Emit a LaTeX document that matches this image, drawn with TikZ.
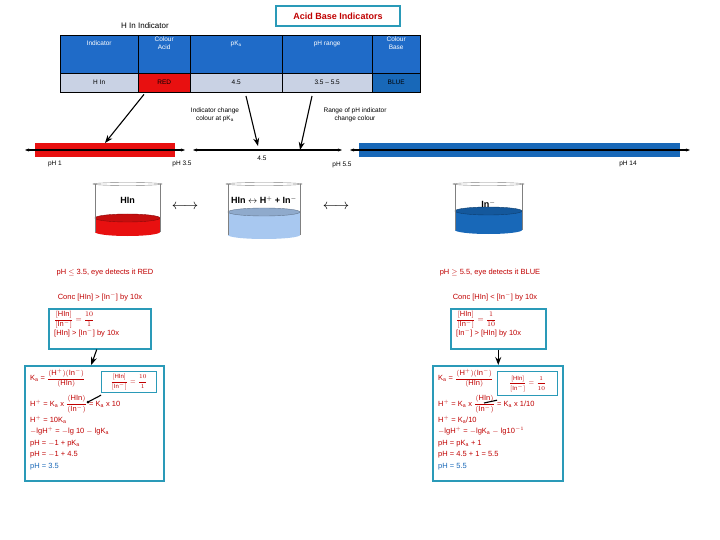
\documentclass[tikz,border=0pt]{standalone}
\usepackage{amsmath}
\usepackage{fontspec}
\setmainfont{Liberation Sans}
\usetikzlibrary{arrows.meta,positioning}
\definecolor{hdrblue}{HTML}{1F6BC8}
\definecolor{rowgrey}{HTML}{C9D2E4}
\definecolor{acidred}{HTML}{E81010}
\definecolor{baseblue}{HTML}{1868B8}
\definecolor{boxteal}{HTML}{2A9AB8}
\definecolor{txtred}{HTML}{C00000}
\definecolor{lightliq}{HTML}{A8C8F0}
\begin{document}
\begin{tikzpicture}[x=1pt,y=-1pt,
  hdr/.style={draw=black,fill=hdrblue,text=white,font=\fontsize{6.5}{7.5}\selectfont,align=center,anchor=north west,inner sep=2pt},
  cell/.style={draw=black,fill=rowgrey,font=\fontsize{6.5}{7.5}\selectfont,anchor=north west,inner sep=0pt},
  label node/.style={font=\fontsize{6.5}{7.5}\selectfont,align=center},
  red text/.style={text=txtred,font=\fontsize{7.5}{9}\selectfont,align=left},
  calc text/.style={text=txtred,font=\fontsize{7.5}{11.5}\selectfont,align=left,anchor=north west,inner sep=0pt},
  calc box/.style={draw=boxteal,line width=1.5pt,fill=white,anchor=north west,inner sep=0pt},
  beaker/.style={draw=gray},
  pointer/.style={-Stealth,line width=1.1pt}]
  \useasboundingbox (0,0) rectangle (720,540);
  % title
  \node[draw=boxteal,line width=1.2pt,fill=white,minimum width=124pt,minimum height=20pt,text=txtred,font=\bfseries\small] (title) at (338,16) {Acid Base Indicators};
  \node[font=\fontsize{8}{9}\selectfont] (hin) at (145,26) {H In Indicator};
  % table
  \foreach \x/\w/\t [count=\i] in {60/78/Indicator,138/52/Colour\\Acid,190/92/pK$_\mathrm{a}$,282/90/pH range,372/48/Colour\\Base}
    \node[hdr,minimum width=\w pt,minimum height=38pt,text depth=22pt] (h\i) at (\x,35) {\t};
  \foreach \x/\w/\t/\c [count=\i] in {60/78/H In/rowgrey,138/52/RED/acidred,190/92/4.5/rowgrey,282/90/3.5 -- 5.5/rowgrey,372/48/BLUE/baseblue}
    \node[cell,fill=\c,minimum width=\w pt,minimum height=19pt] (r\i) at (\x,73) {\t};
  % scale
  \fill[acidred] (35,143) rectangle (175,157);
  \fill[baseblue] (359,143) rectangle (680,157);
  \coordinate (p1) at (25,150); \coordinate (p35) at (185,150);
  \coordinate (q1) at (193,150); \coordinate (q2) at (342,150);
  \coordinate (s1) at (350,150); \coordinate (s2) at (690,150);
  \draw[{Stealth[length=4pt]}-{Stealth[length=4pt]},line width=1.1pt] (p1) -- (p35);
  \draw[{Stealth[length=4pt]}-{Stealth[length=4pt]},line width=1.1pt] (q1) -- (q2);
  \draw[{Stealth[length=4pt]}-{Stealth[length=4pt]},line width=1.1pt] (s1) -- (s2);
  \node[label node] (l1) at (55,164) {pH 1};
  \node[label node] (l35) at (182,164) {pH 3.5};
  \node[label node] (l45) at (262,158) {4.5};
  \node[label node] (l55) at (342,165) {pH 5.5};
  \node[label node] (l14) at (628,164) {pH 14};
  \coordinate (redmid) at (105,143);
  \coordinate (pka) at (258,146);
  \coordinate (rng) at (300,150);
  \node[label node] (chg) at (215,115) {Indicator change\\colour at pK$_\mathrm{a}$};
  \node[label node] (rngtxt) at (355,115) {Range of pH indicator\\change colour};
  \draw[pointer] (r2.south west) ++(6,2) coordinate (a1) -- (redmid);
  \draw[pointer] (246,96) coordinate (a2) -- (pka);
  \draw[pointer] (312,96) coordinate (a3) -- (rng);
  % beakers
  \foreach \xl/\xr/\yb/\top/\liq/\name in {95/160/232/218/acidred/bk1,228/300/235/212/lightliq/bk2,455/522/230/211/baseblue/bk3}{
    \fill[\liq] (\xl,\top) rectangle (\xr,\yb);
    \fill[\liq] ({(\xl+\xr)/2},\yb) ellipse [x radius={(\xr-\xl)/2},y radius=4];
    \fill[\liq!85!black] ({(\xl+\xr)/2},\top) ellipse [x radius={(\xr-\xl)/2},y radius=4];
    \draw[\liq!60!black] ({(\xl+\xr)/2},\top) ellipse [x radius={(\xr-\xl)/2},y radius=4];
    \draw[beaker] (\xl,184) -- (\xl,\yb) (\xr,\yb) -- (\xr,184);
    \draw[gray] ({(\xl+\xr)/2},184) ellipse [x radius={(\xr-\xl)/2+2},y radius=1.5];
    \coordinate (\name) at ({(\xl+\xr)/2},200);
  }
  \node[font=\bfseries\small] (t1) at (bk1) {HIn};
  \node[font=\bfseries\small] (t2) at (bk2) {HIn $\leftrightarrow$ H$^+$ + In$^-$};
  \node[font=\bfseries\small] (t3) at ([yshift=-4pt]bk3) {In$^-$};
  \node[font=\Large] (eq1) at (185,207) {$\longleftrightarrow$};
  \node[font=\Large] (eq2) at (336,207) {$\longleftrightarrow$};
  % acid side
  \node[red text] (acid) at (105,273) {pH $\le$ 3.5, eye detects it RED};
  \node[red text] (aconc) at (100,297) {Conc [HIn] > [In$^-$] by 10x};
  \node[calc box,minimum width=102pt,minimum height=40pt] (abox) at (48,308) {};
  \node[red text,anchor=north west,inner sep=0pt] at (54,311) {$\dfrac{\mathrm{[HIn]}}{\mathrm{[In^-]}}=\dfrac{10}{1}$\\[0pt][HIn] > [In$^-$] by 10x};
  \node[calc box,minimum width=139pt,minimum height=115pt] (acalc) at (24,365) {};
  \draw[-Stealth,line width=1.1pt] (abox.south) ++(-3,0) -- ([xshift=-3pt]acalc.north);
  \node[calc text] (akt) at (30,369) {K$_\mathrm{a}$ = $\dfrac{\mathrm{(H^+)(In^-)}}{\mathrm{(HIn)}}$\\[7pt]
    H$^+$ = K$_\mathrm{a}$ x $\dfrac{\mathrm{(HIn)}}{\mathrm{(In^-)}}$ = K$_\mathrm{a}$ x 10\\[2pt]
    H$^+$ = 10K$_\mathrm{a}$\\ $-$lgH$^+$ = $-$lg 10 $-$ lgK$_\mathrm{a}$\\ pH = $-$1 + pK$_\mathrm{a}$\\ pH = $-$1 + 4.5\\ \textcolor{baseblue}{pH = 3.5}};
  \node[calc box,line width=1.2pt,minimum width=55pt,minimum height=21pt] (ain) at (101,371) {};
  \node[red text,font=\fontsize{6}{7}\selectfont] at (ain.center) {$\dfrac{\mathrm{[HIn]}}{\mathrm{[In^-]}}=\dfrac{10}{1}$};
  \coordinate (adot) at (88,402);
  \draw[line width=1.1pt] ([yshift=-2pt]ain.south west) -- (adot);
  \fill (adot) circle (1.5pt);
  % base side
  \node[red text] (base) at (490,273) {pH $\ge$ 5.5, eye detects it BLUE};
  \node[red text] (bconc) at (495,297) {Conc [HIn] < [In$^-$] by 10x};
  \node[calc box,minimum width=95pt,minimum height=40pt] (bbox) at (450,308) {};
  \node[red text,anchor=north west,inner sep=0pt] at (456,311) {$\dfrac{\mathrm{[HIn]}}{\mathrm{[In^-]}}=\dfrac{1}{10}$\\[0pt][In$^-$] > [HIn] by 10x};
  \node[calc box,minimum width=130pt,minimum height=115pt] (bcalc) at (432,365) {};
  \draw[-Stealth,line width=1.1pt] (bbox.south) -- (bcalc.north -| bbox.south);
  \node[calc text] (bkt) at (438,369) {K$_\mathrm{a}$ = $\dfrac{\mathrm{(H^+)(In^-)}}{\mathrm{(HIn)}}$\\[7pt]
    H$^+$ = K$_\mathrm{a}$ x $\dfrac{\mathrm{(HIn)}}{\mathrm{(In^-)}}$ = K$_\mathrm{a}$ x 1/10\\[2pt]
    H$^+$ = K$_\mathrm{a}$/10\\ $-$lgH$^+$ = $-$lgK$_\mathrm{a}$ $-$ lg10$^{-1}$\\ pH = pK$_\mathrm{a}$ + 1\\ pH = 4.5 + 1 = 5.5\\ \textcolor{baseblue}{pH = 5.5}};
  \node[calc box,line width=1.2pt,minimum width=60pt,minimum height=24pt] (bin) at (497,371) {};
  \node[red text,font=\fontsize{6}{7}\selectfont] at (bin.center) {$\dfrac{\mathrm{[HIn]}}{\mathrm{[In^-]}}=\dfrac{1}{10}$};
  \coordinate (bdot) at (484,403);
  \draw[line width=1.1pt] ([yshift=-4pt]bin.south west) -- (bdot);
\end{tikzpicture}
\end{document}
